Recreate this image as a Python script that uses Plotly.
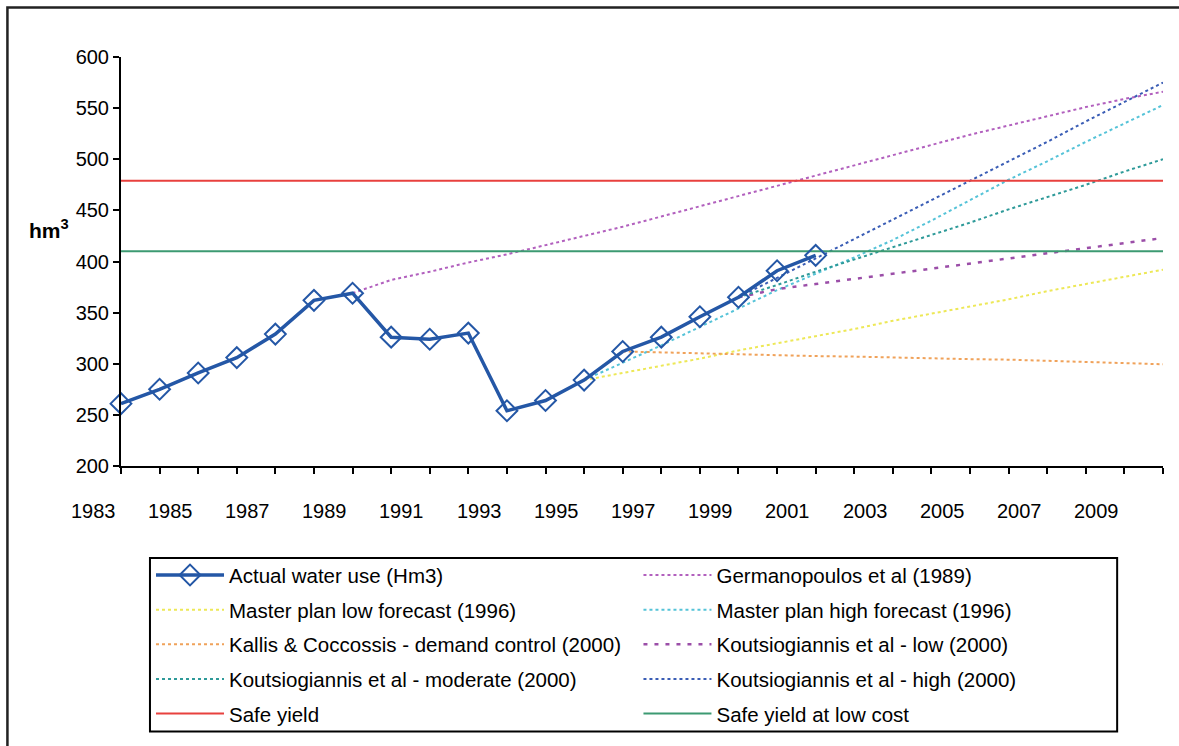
import plotly.graph_objects as go

# actual water use, Hm3
years_actual = list(range(1983, 2002))
actual = [261, 275, 291, 306, 329, 362, 369, 326, 324, 330, 254, 264, 284, 312, 326, 346, 365, 391, 406]

# forecasts
germ_years = list(range(1989, 2011))
germ = [369, 382, 390, 399, 407, 416, 425, 434, 444, 454, 464, 474, 484, 494, 504, 514, 524, 533, 542, 551, 559, 566]

mp_years = list(range(1995, 2011))
mp_low = [284, 291, 298, 305, 313, 320, 327, 334, 342, 349, 356, 363, 371, 378, 385, 392]
mp_high = [284, 301, 318, 336, 354, 372, 388, 404, 421, 440, 460, 480, 498, 517, 535, 553]

kc_years = list(range(1996, 2011))
kallis = [312, 311, 310, 309, 308, 307.5, 307, 306, 305, 304.5, 304, 303, 302, 301, 299.5]

k_years = list(range(1999, 2011))
k_low = [365, 373, 378, 383, 388, 393, 398, 403, 408, 413, 418, 423]
k_mod = [365, 377, 390, 402, 414, 426, 438, 451, 463, 475, 488, 500]
k_high = [365, 384, 403, 422, 441, 460, 479, 498, 517, 537, 556, 575]

safe_yield = 479
safe_yield_low = 410
x_span = [1983, 2010]

tick_years = list(range(1983, 2011))
label_years = list(range(1983, 2010, 2))

FONT = "Liberation Sans, Arial, sans-serif"

fig = go.Figure()


def series(x, y, name, color, legend, rank, dash="dot", width=2):
    fig.add_trace(go.Scatter(
        x=x, y=y, name=name, mode="lines", legend=legend, legendrank=rank,
        legendgroup=name, line=dict(color=color, width=width, dash=dash),
    ))


series(germ_years, germ, "Germanopoulos et al (1989)", "#B260BE", "legend2", 1)
series(mp_years, mp_low, "Master plan low forecast (1996)", "#EDE857", "legend", 2)
series(mp_years, mp_high, "Master plan high forecast (1996)", "#55C3D8", "legend2", 2)
series(kc_years, kallis, "Kallis & Coccossis - demand control (2000)", "#F0A25A", "legend", 3)
series(k_years, k_low, "Koutsiogiannis et al - low (2000)", "#9B4EA8", "legend2", 3,
       dash="4px,7px", width=2.5)
series(k_years, k_mod, "Koutsiogiannis et al - moderate (2000)", "#2E9A99", "legend", 4)
series(k_years, k_high, "Koutsiogiannis et al - high (2000)", "#3A5DB5", "legend2", 4)
series(x_span, [safe_yield] * 2, "Safe yield", "#E8413E", "legend", 5, dash="solid")
series(x_span, [safe_yield_low] * 2, "Safe yield at low cost", "#3C9A72", "legend2", 5, dash="solid")

fig.add_trace(go.Scatter(
    x=years_actual, y=actual, name="Actual water use (Hm3)", mode="lines+markers",
    legend="legend", legendrank=1, legendgroup="actual", cliponaxis=False,
    line=dict(color="#2457A6", width=3.5),
    marker=dict(symbol="diamond-open", size=16, color="#2457A6", line=dict(width=2)),
))

# year labels sit a little left of their tick marks, as in the original
year_labels = [dict(
    text=str(y), xref="paper", yref="paper",
    x=(y - 0.72 - x_span[0]) / (x_span[1] - x_span[0]), y=-0.111,
    xanchor="center", yanchor="middle", showarrow=False,
    font=dict(family=FONT, size=20),
) for y in label_years]

legend_style = dict(
    orientation="v", yanchor="top", xanchor="left", y=-0.218,
    itemwidth=68, borderwidth=0, bgcolor="rgba(0,0,0,0)",
    tracegroupgap=5, traceorder="grouped",
    font=dict(family=FONT, size=20.5),
)

fig.update_layout(
    width=1179, height=746,
    paper_bgcolor="white", plot_bgcolor="white",
    margin=dict(l=121, r=16, t=57, b=277),
    font=dict(family=FONT, size=20, color="black"),
    showlegend=True,
    legend=dict(x=0.0288, **legend_style),
    legend2=dict(x=0.4966, **legend_style),
    xaxis=dict(
        range=x_span, tickvals=tick_years, showticklabels=False,
        ticks="outside", ticklen=6, tickwidth=2, tickcolor="black",
        showline=True, linecolor="black", linewidth=2, showgrid=False, zeroline=False,
    ),
    yaxis=dict(
        range=[200, 600], dtick=50, ticks="outside", ticklen=6, tickwidth=2, tickcolor="black",
        showline=True, linecolor="black", linewidth=2, showgrid=False, zeroline=False,
        tickfont=dict(family=FONT, size=20),
    ),
    annotations=year_labels + [dict(
        text="<b>hm<sup>3</sup></b>", xref="paper", yref="paper",
        x=-0.048, y=0.58, xanchor="right", yanchor="middle", showarrow=False,
        font=dict(family=FONT, size=21),
    )],
    shapes=[
        # outer frame of the figure
        dict(type="rect", xref="paper", yref="paper",
             x0=-0.109, x1=1.3, y0=-1.5, y1=1.121,
             line=dict(color="#222", width=2.5), layer="below"),
        # legend box
        dict(type="rect", xref="paper", yref="paper",
             x0=0.0278, x1=0.956, y0=-0.649, y1=-0.2248,
             line=dict(color="black", width=2), layer="below"),
    ],
)

fig.write_html(
    "out.html",
    config={"displayModeBar": False},
    post_script="document.body.style.margin='0px';"
                "document.documentElement.style.overflow='hidden';",
)
